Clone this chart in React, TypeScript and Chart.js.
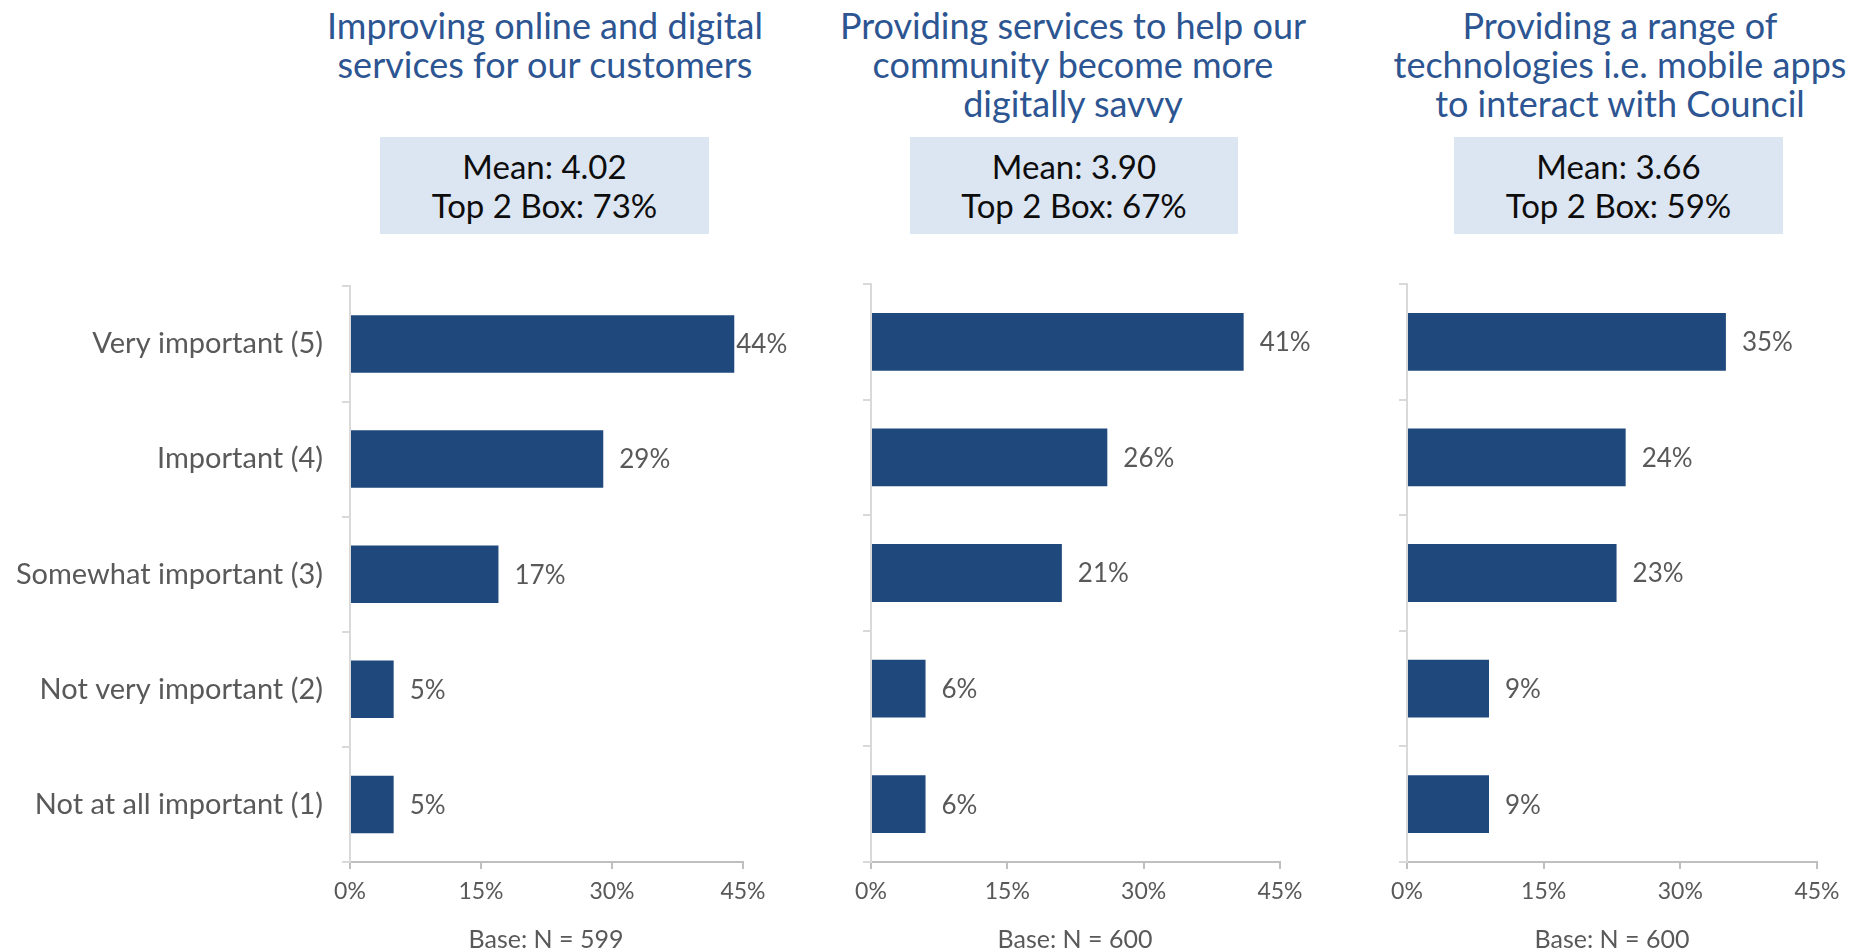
import React, { useEffect, useRef } from "react";
import { Chart, registerables } from "chart.js";

Chart.register(...registerables);

// ---------- data ----------
const categories = [
  "Very important (5)",
  "Important (4)",
  "Somewhat important (3)",
  "Not very important (2)",
  "Not at all important (1)",
];
const titleOnline = ["Improving online and digital", "services for our customers"];
const titleSavvy = ["Providing services to help our", "community become more", "digitally savvy"];
const titleTech = ["Providing a range of", "technologies i.e. mobile apps", "to interact with Council"];
const valuesOnline = [44, 29, 17, 5, 5];
const valuesSavvy = [41, 26, 21, 6, 6];
const valuesTech = [35, 24, 23, 9, 9];
const means = ["4.02", "3.90", "3.66"];
const top2Box = [73, 67, 59];
const bases = [599, 600, 600];
const xTicks = [0, 15, 30, 45];

// ---------- style ----------
const FONT = "Lato, 'Open Sans', sans-serif";
const BAR = "#1F497D";
const GRAY = "#595959";
const TITLE = "#2C5592";
const CANVAS_TOP = 250;
const CANVAS_H = 700;
const PLOT_TOP = 284;
const PLOT_BOTTOM = 862;

const labelPlugin = {
  id: "barValueLabels",
  afterDatasetsDraw(chart: any) {
    const ctx = chart.ctx;
    const meta = chart.getDatasetMeta(0);
    const data = chart.data.datasets[0].data as number[];
    ctx.save();
    ctx.font = `26px ${FONT}`;
    ctx.fillStyle = GRAY;
    ctx.textAlign = "left";
    ctx.textBaseline = "middle";
    meta.data.forEach((bar: any, i: number) => {
      const txt = `${data[i]}%`;
      const w = ctx.measureText(txt).width;
      let x = bar.x + 16;
      const limit = chart.chartArea.right + 44 - w;
      if (x > limit) x = Math.max(bar.x + 2, limit);
      ctx.fillText(txt, x, bar.y + 1);
    });
    ctx.restore();
  },
};

type PanelProps = {
  values: number[];
  left: number;
  width: number;
  axisLeft: number; // absolute x of plot left
  axisRight: number; // absolute x of plot right
  showCategories: boolean;
};

function BarPanel({ values, left, width, axisLeft, axisRight, showCategories }: PanelProps) {
  const ref = useRef<HTMLCanvasElement>(null);
  useEffect(() => {
    const yWidth = axisLeft - left;
    const xHeight = CANVAS_H - (PLOT_TOP - CANVAS_TOP) - (PLOT_BOTTOM - PLOT_TOP);
    const chart = new Chart(ref.current as HTMLCanvasElement, {
      type: "bar",
      data: {
        labels: categories,
        datasets: [
          {
            data: values,
            backgroundColor: BAR,
            borderWidth: 0,
            barPercentage: 0.5,
            categoryPercentage: 1,
          },
        ],
      },
      options: {
        indexAxis: "y",
        responsive: false,
        animation: false,
        events: [],
        layout: {
          padding: { left: 0, top: PLOT_TOP - CANVAS_TOP, right: left + width - axisRight, bottom: 0 },
        },
        plugins: { legend: { display: false }, tooltip: { enabled: false }, title: { display: false } },
        scales: {
          x: {
            type: "linear",
            min: 0,
            max: 45,
            afterBuildTicks: (s: any) => {
              s.ticks = xTicks.map((v) => ({ value: v }));
            },
            ticks: {
              callback: (v: any) => `${v}%`,
              color: GRAY,
              font: { family: FONT, size: 23 },
              padding: 9,
              maxRotation: 0,
              autoSkip: false,
            },
            grid: { drawOnChartArea: false, tickLength: 7, color: "#BFBFBF", lineWidth: 2 },
            border: { display: true, color: "#BFBFBF", width: 2 },
            afterFit: (s: any) => {
              s.height = xHeight;
            },
          },
          y: {
            type: "category",
            ticks: {
              display: showCategories,
              color: GRAY,
              font: { family: FONT, size: 29 },
              padding: 19,
              autoSkip: false,
            },
            grid: { drawOnChartArea: false, tickLength: 8, color: "#D9D9D9", lineWidth: 2, offset: true },
            border: { display: true, color: "#D9D9D9", width: 2 },
            afterFit: (s: any) => {
              s.width = yWidth;
            },
          },
        },
      },
      plugins: [labelPlugin],
    } as any);
    return () => chart.destroy();
  }, []);
  return (
    <canvas
      ref={ref}
      width={width}
      height={CANVAS_H}
      style={{ position: "absolute", left, top: CANVAS_TOP, width, height: CANVAS_H }}
    />
  );
}

function Title({ lines, cx }: { lines: string[]; cx: number }) {
  return (
    <div
      style={{
        position: "absolute",
        left: cx - 320,
        width: 640,
        top: 6,
        textAlign: "center",
        fontFamily: FONT,
        fontSize: 36,
        lineHeight: "39px",
        color: TITLE,
        whiteSpace: "nowrap",
      }}
    >
      {lines.map((l, i) => (
        <div key={i}>{l}</div>
      ))}
    </div>
  );
}

function MeanBox({ left, width, mean, top2 }: { left: number; width: number; mean: string; top2: number }) {
  return (
    <div
      style={{
        position: "absolute",
        left,
        top: 137,
        width,
        height: 97,
        background: "#DCE6F2",
        display: "flex",
        flexDirection: "column",
        justifyContent: "center",
        alignItems: "center",
        fontFamily: FONT,
        fontSize: 33,
        lineHeight: "39px",
        color: "#0D0D0D",
        whiteSpace: "nowrap",
      }}
    >
      <div>Mean: {mean}</div>
      <div>Top 2 Box: {top2}%</div>
    </div>
  );
}

function Base({ cx, n }: { cx: number; n: number }) {
  return (
    <div
      style={{
        position: "absolute",
        left: cx - 150,
        width: 300,
        top: 924,
        textAlign: "center",
        fontFamily: FONT,
        fontSize: 25,
        lineHeight: "28px",
        color: GRAY,
      }}
    >
      Base: N = {n}
    </div>
  );
}

export default function App() {
  return (
    <div
      style={{
        position: "absolute",
        left: 0,
        top: 0,
        width: 1851,
        height: 950,
        overflow: "hidden",
        background: "#FFFFFF",
      }}
    >
      <Title lines={titleOnline} cx={545} />
      <Title lines={titleSavvy} cx={1073} />
      <Title lines={titleTech} cx={1620} />
      <MeanBox left={380} width={329} mean={means[0]} top2={top2Box[0]} />
      <MeanBox left={910} width={328} mean={means[1]} top2={top2Box[1]} />
      <MeanBox left={1454} width={329} mean={means[2]} top2={top2Box[2]} />
      <BarPanel values={valuesOnline} left={0} width={800} axisLeft={350} axisRight={743} showCategories={true} />
      <BarPanel values={valuesSavvy} left={820} width={560} axisLeft={871} axisRight={1280} showCategories={false} />
      <BarPanel values={valuesTech} left={1360} width={491} axisLeft={1407} axisRight={1817} showCategories={false} />
      <Base cx={546} n={bases[0]} />
      <Base cx={1075} n={bases[1]} />
      <Base cx={1612} n={bases[2]} />
    </div>
  );
}
